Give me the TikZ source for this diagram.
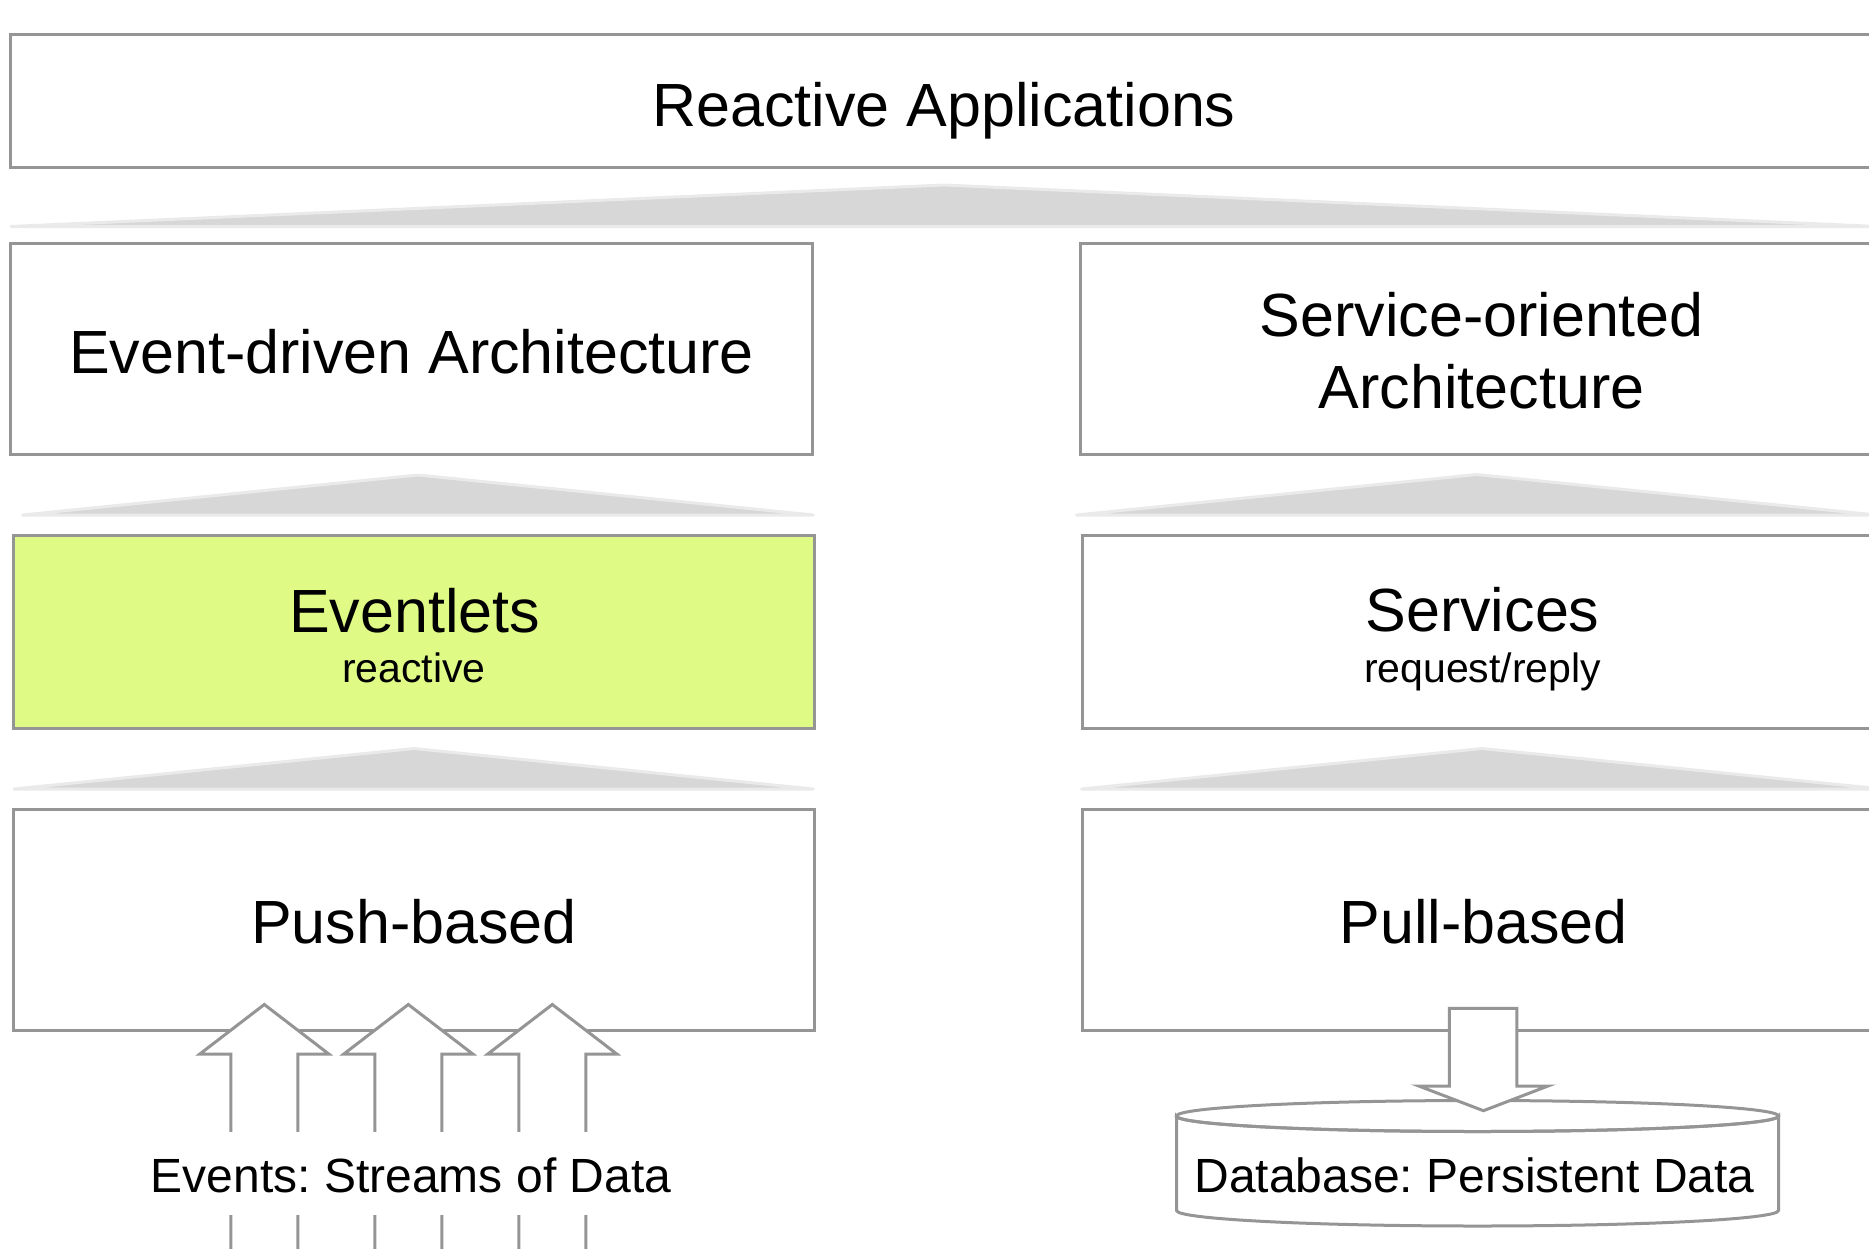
\documentclass[tikz,border=0pt]{standalone}
\usepackage{fontspec}
\setmainfont{Liberation Sans}
\frenchspacing
\definecolor{bgray}{HTML}{959595}
\definecolor{trifill}{HTML}{D7D7D7}
\definecolor{triedge}{HTML}{EAEAEA}
\definecolor{evfill}{HTML}{E0FA86}
\begin{document}
\begin{tikzpicture}[x=1pt,y=-1pt,
  box/.style={draw=bgray, line width=3pt, fill=white, inner sep=0pt, outer sep=0pt, rectangle},
  bigtext/.style={font=\fontsize{61}{71}\selectfont, anchor=base, inner sep=0pt},
  smalltext/.style={font=\fontsize{41}{48}\selectfont, anchor=base, inner sep=0pt},
  midtext/.style={font=\fontsize{48}{56}\selectfont, anchor=base, inner sep=0pt},
  tri/.style={draw=triedge, fill=trifill, line width=3pt, line join=round},
  blockarrow/.style={draw=bgray, fill=white, line width=3pt, line join=miter}
]
\useasboundingbox (0,0) rectangle (1869,1248);
\begin{scope}
\clip (0,0) rectangle (1869,1248);

% boxes
\node[box, minimum width=1868pt, minimum height=133.3pt] (ra) at (944,101.3) {};
\node[box, minimum width=801.7pt, minimum height=210.4pt] (eda) at (411.2,348.8) {};
\node[box, minimum width=801.7pt, minimum height=210.4pt] (soa) at (1481.5,348.8) {};
\node[box, fill=evfill, minimum width=801.4pt, minimum height=193pt] (evl) at (414,632) {};
\node[box, minimum width=801.4pt, minimum height=193pt] (srv) at (1482.7,632) {};
\node[box, minimum width=801.4pt, minimum height=221pt] (push) at (414,919.5) {};
\node[box, minimum width=801.4pt, minimum height=221pt] (pull) at (1482.7,919.5) {};

% triangles
\path[tri] (11,226.5) -- (944,185) -- (1877,226.5) -- cycle;
\path[tri] (22.5,515) -- (418,475) -- (813.5,515) -- cycle;
\path[tri] (14,789) -- (414,748.5) -- (813.5,789) -- cycle;
\path[tri] (1076.5,515) -- (1476.5,474.5) -- (1876.5,515) -- cycle;
\path[tri] (1081.5,789) -- (1482,748.5) -- (1882.5,789) -- cycle;

% database cylinder
\path[draw=bgray, fill=white, line width=3pt]
  (1176.5,1116) -- (1176.5,1210.5)
  arc[start angle=180, end angle=0, x radius=301, y radius=15.5]
  -- (1778.5,1116) arc[start angle=0, end angle=180, x radius=301, y radius=15.5] -- cycle;
\draw[bgray, line width=3pt] (1477.5,1116) ellipse[x radius=301, y radius=15.5];

% pull arrow
\path[blockarrow] (1449.3,1008.3) -- (1516.9,1008.3) -- (1516.9,1086) -- (1548,1086)
  -- (1483.4,1110.7) -- (1418.8,1086) -- (1449.3,1086) -- cycle;

% push arrows
\foreach \c in {264.3,408.3,552.3}{
  \path[blockarrow] (\c-33.5,1262) -- (\c-33.5,1054) -- (\c-64.5,1054) -- (\c,1004.5)
    -- (\c+64.5,1054) -- (\c+33.5,1054) -- (\c+33.5,1262) -- cycle;
}

% texts
\node[bigtext] (ratext) at (944,126) {Reactive Applications};
\node[bigtext] (edatext) at (411.5,373.3) {Event-driven Architecture};
\node[bigtext] (soatexta) at (1481.7,336.7) {Service-oriented};
\node[bigtext] (soatextb) at (1481.7,408.3) {Architecture};
\node[bigtext] (evltext) at (414.5,632.3) {Eventlets};
\node[smalltext] (evlsub) at (414,682.7) {reactive};
\node[bigtext] (srvtext) at (1482.5,631.7) {Services};
\node[smalltext] (srvsub) at (1482.5,682.5) {request/reply};
\node[bigtext] (pushtext) at (414,943.3) {Push-based};
\node[bigtext] (pulltext) at (1483.5,943.3) {Pull-based};
\node[midtext, fill=white, text height=60.3pt, text depth=22.7pt, inner xsep=6pt] (evtext) at (411,1192.3) {Events: Streams of Data};
\node[midtext] (dbtext) at (1474.5,1192.3) {Database: Persistent Data};
\end{scope}
\end{tikzpicture}
\end{document}
